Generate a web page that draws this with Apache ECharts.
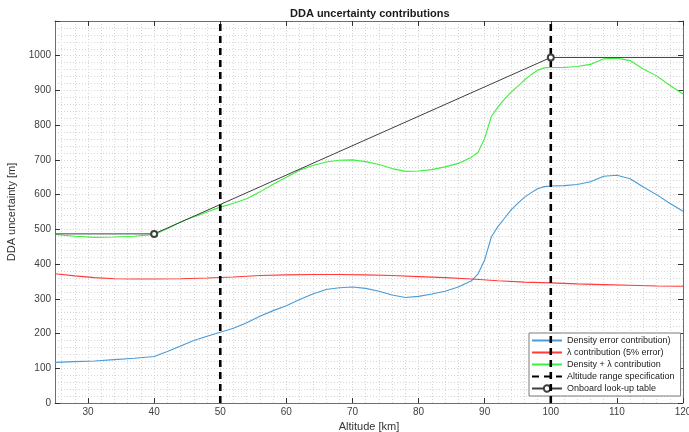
<!DOCTYPE html>
<html>
<head>
<meta charset="utf-8">
<script src="https://cdn.jsdelivr.net/npm/echarts@6/dist/echarts.min.js"></script>
<style>
  html, body { margin: 0; padding: 0; background: #ffffff; }
  #chart { width: 689px; height: 432px; }
</style>
</head>
<body>
<div id="chart"></div>
<script>
// Altitude samples [km] shared by the density-driven curves
const altitude = [25, 28, 31, 34, 37, 40, 42, 44, 46, 48, 50, 52, 54, 56, 58, 60, 62, 64, 66, 68,
  70, 72, 74, 76, 78, 80, 82, 84, 86, 88, 89, 90, 91, 92, 93, 94, 95, 96, 97, 98, 99, 100,
  102, 104, 106, 108, 110, 112, 114, 116, 118, 120];

// Density error contribution [m]
const densityErr = [117, 119, 121, 125, 129, 134, 148, 164, 180, 192, 204, 215, 231, 250, 266, 280, 298, 314, 327, 332,
  334, 330, 322, 311, 304, 307, 314, 322, 334, 352, 372, 412, 478, 508, 532, 556, 575, 592, 605, 617, 623, 625,
  626, 629, 637, 653, 656, 646, 622, 600, 575, 552];

// Density + lambda contribution [m]
const combinedErr = [485, 480, 477, 478, 480, 485, 502, 521, 536, 550, 564, 575, 588, 608, 630, 650, 670, 684, 694, 699,
  700, 695, 687, 675, 667, 668, 672, 680, 690, 708, 722, 762, 825, 852, 875, 895, 912, 930, 945, 958, 965, 966,
  966, 969, 975, 991, 993, 986, 962, 942, 915, 890];

// Lambda contribution (5% error) [m]
const lambdaAlt = [25, 28, 31, 34, 37, 40, 44, 48, 52, 56, 60, 64, 68, 72, 76, 80, 84, 88, 92, 96, 100, 104, 108, 112, 116, 120];
const lambdaErr = [372, 366, 361, 358, 357, 357, 358, 360, 363, 367, 369, 370, 370, 369, 367, 364, 361, 357, 352, 348, 346, 343, 341, 339, 337, 336];

// Onboard look-up table nodes
const lookupAlt = [25, 40, 100, 120];
const lookupVal = [487, 487, 995, 995];
const lookupNode = [false, true, true, false];

// Altitude range specification limits [km]
const specAlt = [50, 100];

// Axis ticks
const xTicks = [30, 40, 50, 60, 70, 80, 90, 100, 110, 120];
const yMax = 1100;

const pairs = (xs, ys) => xs.map((x, i) => [x, ys[i]]);

// dotted minor grid (every 2 km, every 20 m)
const xGrid = [];
for (let v = 26; v < 120; v += 2) xGrid.push({ xAxis: v });
const yGrid = [];
for (let v = 20; v < yMax; v += 20) yGrid.push({ yAxis: v });

const FONT = '"Liberation Sans", Arial, sans-serif';
const tickStyle = { color: '#333333', width: 1 };
const frameStyle = { color: '#6e6e6e', width: 1 };
const LOOKUP_COLOR = '#404040';
const lineOnly = { opacity: 0 };

const specSeries = specAlt.map(a => ({
  name: 'Altitude range specification',
  type: 'line',
  data: [[a, 0], [a, yMax]],
  symbol: 'circle',
  showSymbol: false,
  lineStyle: { color: '#000000', width: 2.6, type: [7, 5] },
  itemStyle: { color: '#000000' },
  z: 4
}));

const option = {
  animation: false,
  backgroundColor: '#ffffff',
  title: {
    text: 'DDA uncertainty contributions',
    left: 290,
    top: 8,
    padding: 0,
    textStyle: { fontFamily: FONT, fontSize: 11, fontWeight: 'bold', color: '#1a1a1a' }
  },
  grid: { left: 55, right: 6, top: 21, bottom: 29, containLabel: false, outerBoundsMode: 'none' },
  legend: {
    orient: 'vertical',
    left: 529,
    top: 333,
    data: [
      { name: 'Density error contribution)', itemStyle: lineOnly },
      { name: 'λ contribution (5% error)', itemStyle: lineOnly },
      { name: 'Density + λ contribution', itemStyle: lineOnly },
      { name: 'Altitude range specification', itemStyle: lineOnly },
      { name: 'Onboard look-up table' }
    ],
    backgroundColor: '#ffffff',
    borderColor: '#7a7a7a',
    borderWidth: 1,
    borderRadius: 0,
    padding: [3, 6, 3, 2],
    itemWidth: 30,
    itemHeight: 8,
    itemGap: 3,
    selectedMode: false,
    textStyle: { fontFamily: FONT, fontSize: 9, color: '#1a1a1a' }
  },
  xAxis: [{
    type: 'value', min: 25, max: 120,
    name: 'Altitude [km]', nameLocation: 'middle', nameGap: 16,
    nameTextStyle: { fontFamily: FONT, fontSize: 11, color: '#333333' },
    axisLine: { show: true, onZero: false, lineStyle: frameStyle },
    axisTick: { show: true, inside: true, length: 5, customValues: xTicks, lineStyle: tickStyle },
    axisLabel: { customValues: xTicks, margin: 4, fontFamily: FONT, fontSize: 10, color: '#404040' },
    splitLine: { show: false }
  }, {
    type: 'value', min: 25, max: 120, position: 'top',
    axisLine: { show: true, onZero: false, lineStyle: frameStyle },
    axisTick: { show: true, inside: true, length: 5, customValues: xTicks, lineStyle: tickStyle },
    axisLabel: { show: false },
    splitLine: { show: false }
  }],
  yAxis: [{
    type: 'value', min: 0, max: yMax, interval: 100,
    name: 'DDA uncertainty [m]', nameLocation: 'middle', nameGap: 27, nameRotate: 90,
    nameTextStyle: { fontFamily: FONT, fontSize: 11, color: '#333333' },
    axisLine: { show: true, onZero: false, lineStyle: frameStyle },
    axisTick: { show: true, inside: true, length: 5, lineStyle: tickStyle },
    axisLabel: {
      margin: 4, fontFamily: FONT, fontSize: 10, color: '#404040',
      formatter: v => (v > 1000 ? '' : String(v))
    },
    splitLine: { show: false }
  }, {
    type: 'value', min: 0, max: yMax, interval: 100, position: 'right',
    axisLine: { show: true, onZero: false, lineStyle: frameStyle },
    axisTick: { show: true, inside: true, length: 5, lineStyle: tickStyle },
    axisLabel: { show: false },
    splitLine: { show: false }
  }],
  series: [
    {
      name: 'grid',
      type: 'line',
      data: [[25, 0]],
      symbol: 'none',
      lineStyle: { opacity: 0 },
      silent: true,
      z: 0,
      markLine: {
        silent: true,
        z: 0,
        symbol: ['none', 'none'],
        label: { show: false },
        lineStyle: { color: '#d6d6d6', width: 1, type: [1, 2] },
        emphasis: { disabled: true },
        data: xGrid.concat(yGrid)
      }
    },
    {
      name: 'Density error contribution)',
      type: 'line',
      data: pairs(altitude, densityErr),
      symbol: 'circle',
      showSymbol: false,
      lineStyle: { color: '#4a9bd6', width: 1.1 },
      itemStyle: { color: '#4a9bd6' },
      z: 2
    },
    {
      name: 'λ contribution (5% error)',
      type: 'line',
      data: pairs(lambdaAlt, lambdaErr),
      symbol: 'circle',
      showSymbol: false,
      lineStyle: { color: '#ff3b3b', width: 1.1 },
      itemStyle: { color: '#ff3b3b' },
      z: 2
    },
    {
      name: 'Density + λ contribution',
      type: 'line',
      data: pairs(altitude, combinedErr),
      symbol: 'circle',
      showSymbol: false,
      lineStyle: { color: '#3cf03c', width: 1.1 },
      itemStyle: { color: '#3cf03c' },
      z: 2
    },
    ...specSeries,
    {
      name: 'Onboard look-up table',
      type: 'line',
      data: lookupAlt.map((a, i) => ({
        value: [a, lookupVal[i]],
        symbol: lookupNode[i] ? 'emptyCircle' : 'none'
      })),
      symbol: 'emptyCircle',
      symbolSize: 6,
      showSymbol: true,
      lineStyle: { color: LOOKUP_COLOR, width: 1 },
      itemStyle: { color: LOOKUP_COLOR, borderColor: '#5a5a5a', borderWidth: 1 },
      z: 5
    }
  ]
};

const chart = echarts.init(document.getElementById('chart'), null, { renderer: 'canvas' });
chart.setOption(option);
</script>
</body>
</html>
